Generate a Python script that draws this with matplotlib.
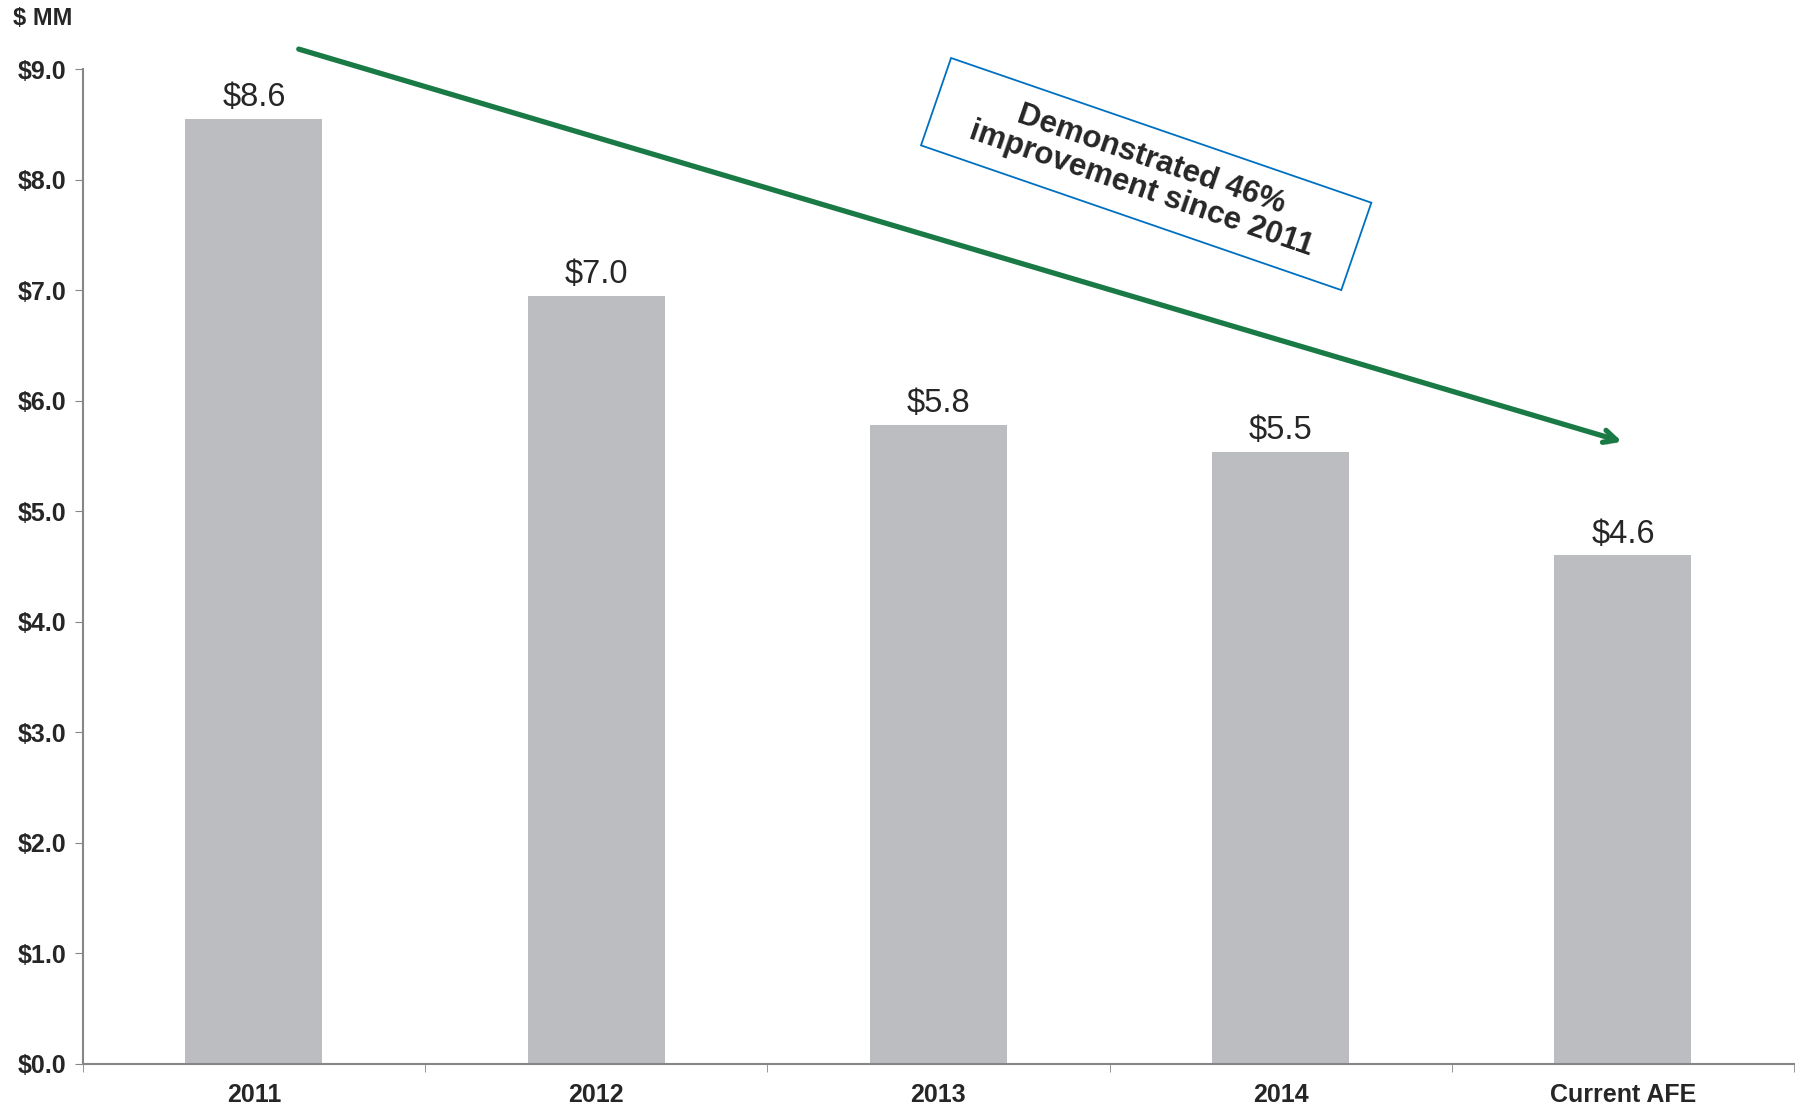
import matplotlib.pyplot as plt
import matplotlib.patheffects as pe

plt.rcParams['font.family'] = ['Liberation Sans', 'DejaVu Sans']

categories = ["2011", "2012", "2013", "2014", "Current AFE"]
costs = [8.55, 6.95, 5.78, 5.54, 4.6]
labels = ["$8.6", "$7.0", "$5.8", "$5.5", "$4.6"]
yticks = [0, 1, 2, 3, 4, 5, 6, 7, 8, 9]

fig = plt.figure(figsize=(18, 11.06), dpi=100)
ax = fig.add_axes([0.046, 0.038, 0.9507, 0.8996])

x = range(len(categories))
ax.bar(x, costs, width=0.4, color="#bcbdc0", zorder=2)
for i, v in enumerate(costs):
    ax.text(i, v + 0.05, labels[i], ha="center", va="bottom", fontsize=23.5, color="#262626")

ax.set_xlim(-0.5, len(categories) - 0.5)
ax.set_ylim(0, 9)
ax.set_yticks(yticks)
ax.set_yticklabels(["$%.1f" % t for t in yticks], fontsize=18, fontweight="bold", color="#262626")
ax.set_xticks(list(x))
ax.set_xticklabels(categories, fontsize=18, fontweight="bold", color="#262626")
ax.set_xticks([i - 0.5 for i in range(len(categories) + 1)], minor=True)
ax.tick_params(axis="x", which="major", length=0, pad=14)
ax.tick_params(axis="x", which="minor", length=6, color="#868686", direction="out")
ax.tick_params(axis="y", length=6, color="#868686", direction="out", pad=6)

for s in ["top", "right"]:
    ax.spines[s].set_visible(False)
for s in ["left", "bottom"]:
    ax.spines[s].set_color("#868686")
    ax.spines[s].set_linewidth(1.5)

fig.text(0.007, 0.983, "$ MM", fontsize=17, fontweight="bold", color="#262626", va="center")

# trend arrow
ann = ax.annotate("", xy=(3.997, 5.63), xytext=(0.131, 9.18),
                  arrowprops=dict(arrowstyle="->,head_length=0.9,head_width=0.45",
                                  color="#1a7a45", lw=3.8, shrinkA=0, shrinkB=0),
                  annotation_clip=False, zorder=5)
ann.arrow_patch.set_clip_on(False)
ann.arrow_patch.set_path_effects([pe.SimplePatchShadow(offset=(2, -2), alpha=0.25), pe.Normal()])

ax.text(2.607, 8.05, "   Demonstrated 46%   \n   improvement since 2011   ", rotation=-19,
        rotation_mode="anchor", ha="center", va="center", fontsize=22.5, fontweight="bold",
        color="#262626", linespacing=1.05, zorder=6,
        bbox=dict(boxstyle="square,pad=0.5", facecolor="white", edgecolor="#0070c0", linewidth=1.3))

fig.savefig("out.png", dpi=100)
